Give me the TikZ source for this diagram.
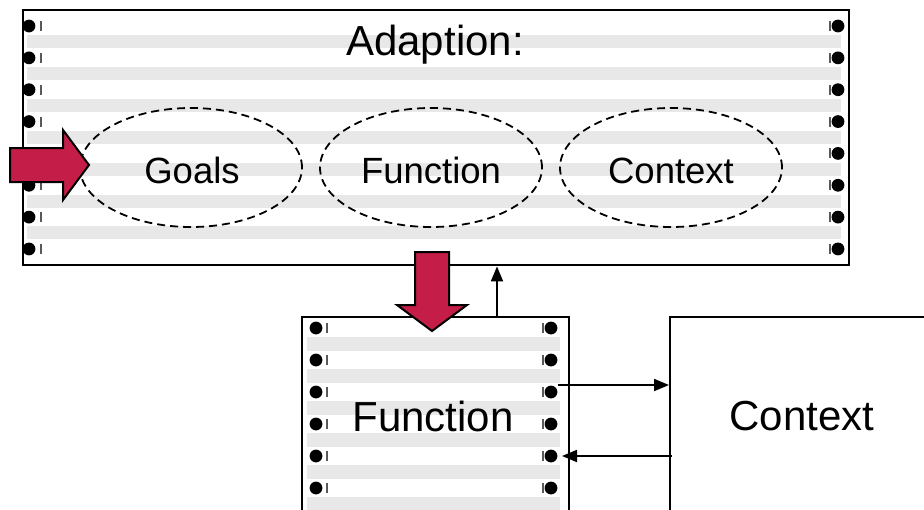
\documentclass[tikz,border=0pt]{standalone}
\usepackage{fontspec}
\setmainfont{Liberation Sans}
\usetikzlibrary{arrows.meta,shapes.geometric}
\definecolor{arrowred}{RGB}{196,30,72}
\definecolor{stripegray}{RGB}{232,232,232}
\newcommand\bigtext{\fontsize{42}{46}\selectfont}
\newcommand\midtext{\fontsize{36.5}{40}\selectfont}

\begin{document}
\begin{tikzpicture}[x=1pt,y=-1pt,
  frame/.style={draw,line width=2.4pt,inner sep=0pt,anchor=north west},
  goalring/.style={ellipse,draw,dash pattern=on 8pt off 5pt,line width=1.8pt,
    minimum width=222pt,minimum height=119pt,inner sep=0pt},
  label/.style={anchor=base,inner sep=0pt},
  bigarrow/.style={fill=arrowred,draw=black,line width=2pt,line join=miter},
  conn/.style={line width=1.8pt,-{Triangle[length=15pt,width=12pt]}},
  holetick/.style={line width=1.2pt,draw=black!65},
  stripe/.style={fill=stripegray},
  hole/.style={fill=black}]

\fill[white] (0,0) rectangle (924,509);
\useasboundingbox (0,0) rectangle (924,509);
\clip (0,0) rectangle (924,509);

% ---- striped sheet: Adaption ----
\foreach \i in {0,...,6}
  \fill[stripe] (27,{35+31.9*\i}) rectangle (841,{48+31.9*\i});
\foreach \i in {0,...,7} {
  \fill[hole] (29,{26+31.85*\i}) circle (6.4pt);
  \draw[holetick] (41,{21+31.85*\i}) -- ++(0,10);
  \fill[hole] (838,{26+31.85*\i}) circle (6.4pt);
  \draw[holetick] (830,{21+31.85*\i}) -- ++(0,10);
}
\node[frame,minimum width=826pt,minimum height=255pt] (adapt) at (22,9) {};
\node[label] (title) at (435,55) {\bigtext Adaption:};

\node[goalring] (goalsring) at (191,167.5) {};
\node[goalring] (funcring)  at (431,167.5) {};
\node[goalring] (ctxring)   at (671,167.5) {};
\node[label] (goals)    at (192,183) {\midtext Goals};
\node[label] (funcname) at (431,183) {\midtext Function};
\node[label] (ctxname)  at (671,183) {\midtext Context};

% ---- striped sheet: Function ----
\foreach \i in {0,...,5}
  \fill[stripe] (307,{337+32*\i}) rectangle (560,{351+32*\i});
\foreach \i in {0,...,5} {
  \fill[hole] (316,{328+32*\i}) circle (6.4pt);
  \draw[holetick] (327,{323+32*\i}) -- ++(0,10);
  \fill[hole] (551,{328+32*\i}) circle (6.4pt);
  \draw[holetick] (543,{323+32*\i}) -- ++(0,10);
}
\node[frame,minimum width=267pt,minimum height=230pt] (func) at (301,316) {};
\node[label] (functext) at (433,431) {\bigtext Function};

% ---- Context ----
\node[frame,minimum width=300pt,minimum height=230pt] (ctx) at (669,316) {};
\node[label] (ctxtext) at (802,430) {\bigtext Context};

% ---- connectors ----
\coordinate (feedback) at (497,316);
\draw[conn] (feedback) -- (feedback |- adapt.south);
\coordinate (sense) at (558,385);
\draw[conn] (sense) -- (sense -| ctx.west);
\coordinate (act) at (562,456);
\draw[conn] ([xshift=3pt]act -| ctx.west) -- (act);

% ---- big red arrows ----
\draw[bigarrow] (10,148) -- (63,148) -- (63,130) -- (89,165) -- (63,200)
  -- (63,182) -- (10,182) -- cycle;
\draw[bigarrow] (415,252) -- (449,252) -- (449,305) -- (467,305) -- (432,331)
  -- (397,305) -- (415,305) -- cycle;
\end{tikzpicture}
\end{document}
